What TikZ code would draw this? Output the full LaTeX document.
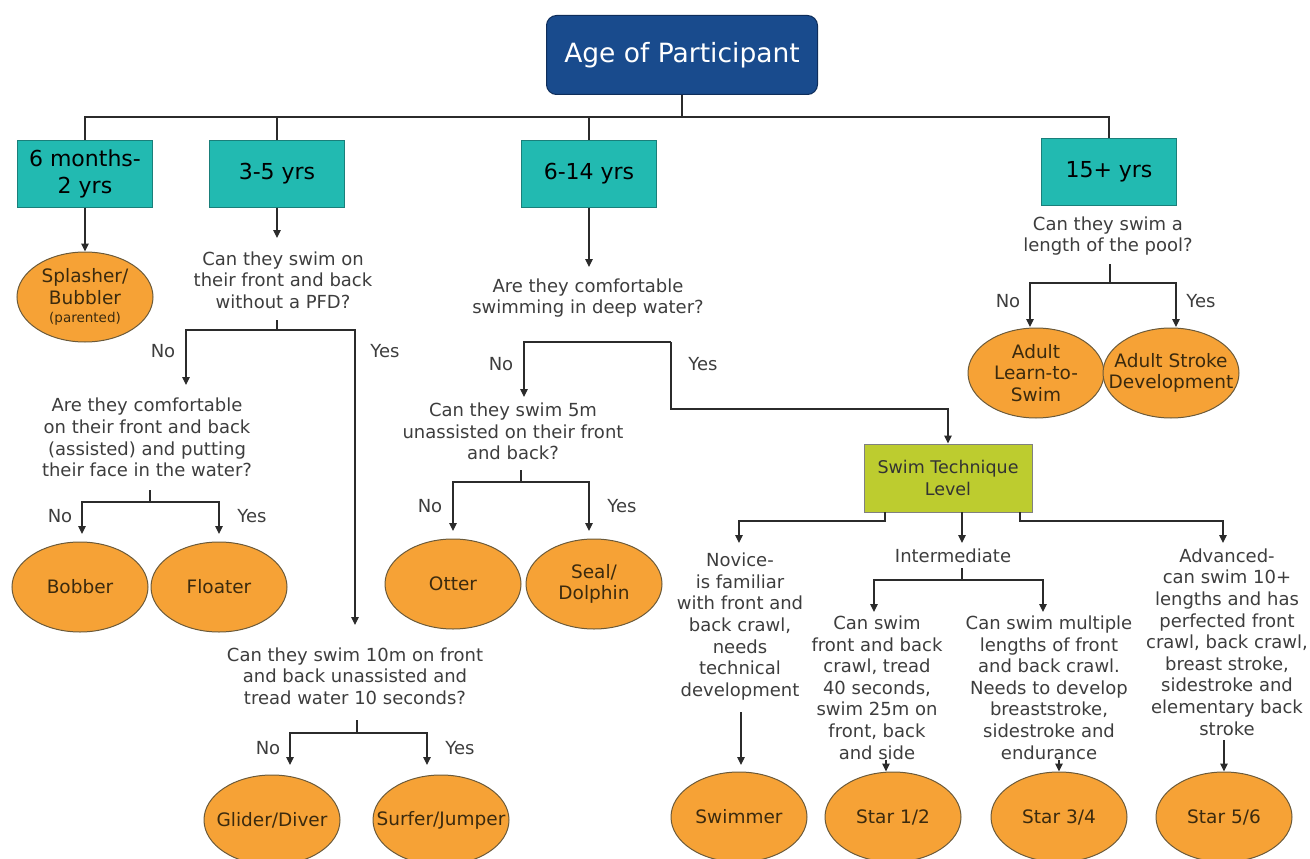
\documentclass[tikz,border=0pt]{standalone}
\usepackage{fontspec}
\setmainfont{DejaVu Sans}
\usetikzlibrary{arrows.meta,shapes.geometric}
\definecolor{titleblue}{HTML}{194B8D}
\definecolor{titleedge}{HTML}{0E2D5A}
\definecolor{tealfill}{HTML}{22BAB1}
\definecolor{tealedge}{HTML}{1A7F7A}
\definecolor{orangefill}{HTML}{F6A236}
\definecolor{orangeedge}{HTML}{6B5A3A}
\definecolor{limefill}{HTML}{BDCC2F}
\definecolor{limeedge}{HTML}{808080}
\definecolor{qtext}{HTML}{3D3D3D}
\definecolor{otxt}{HTML}{3B2A0E}
\definecolor{linec}{HTML}{2B2B2B}
\tikzset{
  titlebox/.style={draw=titleedge,fill=titleblue,rounded corners=10pt,line width=1pt,
    minimum width=271pt,minimum height=79pt,text=white,font=\fontsize{26.5}{30}\selectfont},
  agebox/.style={draw=tealedge,fill=tealfill,line width=1pt,minimum width=135pt,
    minimum height=67pt,align=center,text=black,font=\fontsize{22}{27}\selectfont},
  limebox/.style={draw=limeedge,fill=limefill,line width=1pt,minimum width=168pt,
    minimum height=68pt,align=center,text=black!80,font=\fontsize{17.5}{21.5}\selectfont},
  oval/.style={ellipse,draw=orangeedge,fill=orangefill,line width=1pt,
    minimum width=136pt,minimum height=90pt,inner sep=0pt},
  otext/.style={align=center,text=otxt,inner sep=0pt,font=\fontsize{18.5}{21.6}\selectfont},
  qtxt/.style={align=center,text=qtext,inner sep=0pt,font=\fontsize{18}{21.6}\selectfont},
  yn/.style={text=qtext,inner sep=0pt,font=\fontsize{18}{21.6}\selectfont},
  conn/.style={draw=linec,line width=1.2pt},
  arr/.style={conn,-{Triangle[width=7.5pt,length=8pt]}},
}
\begin{document}
\begin{tikzpicture}[x=1pt,y=-1pt]
\useasboundingbox (0,0) rectangle (1310,859);

% title and age boxes
\node[titlebox] (title) at (682,55) {Age of Participant};
\node[agebox] (tA) at (85,173.5) {6 months-\\2 yrs};
\node[agebox] (tB) at (277,173.5) {3-5 yrs};
\node[agebox] (tC) at (589,173.5) {6-14 yrs};
\node[agebox] (tD) at (1109,171.5) {15+ yrs};
\coordinate (bus) at (682,117);
\draw[conn] (title.south) -- (bus);
\draw[conn] (tA.north) |- (bus) -| (tD.north);
\draw[conn] (tB.north) -- (tB.north |- bus);
\draw[conn] (tC.north) -- (tC.north |- bus);

% 6 months - 2 yrs
\node[oval] (sA) at (85,297) {};
\node[otext] (sAt) at (sA) {Splasher/\\Bubbler\\[-3pt]{\fontsize{13.5}{15}\selectfont(parented)}};
\draw[arr] (tA.south) -- (sA.north);

% 3-5 yrs
\node[qtxt] (q1) at (283,280) {Can they swim on\\their front and back\\without a PFD?};
\coordinate (q1in) at (277,238);
\draw[arr] (tB.south) -- (q1in);
\coordinate (q1out) at (277,320);
\coordinate (q1j) at (277,330);
\coordinate (q2in) at (186,385);
\coordinate (q3in) at (355,625);
\draw[conn] (q1out) -- (q1j);
\draw[arr] (q1j) -| (q2in);
\draw[arr] (q1j) -| (q3in);
\node[yn] (n1) at (163,351) {No};
\node[yn] (y1) at (385,351) {Yes};

\node[qtxt] (q2) at (147,437.5) {Are they comfortable\\on their front and back\\(assisted) and putting\\their face in the water?};
\coordinate (q2out) at (150,490);
\coordinate (q2j) at (150,502);
\coordinate (bobin) at (82,534);
\coordinate (floin) at (219,534);
\draw[conn] (q2out) -- (q2j);
\draw[arr] (q2j) -| (bobin);
\draw[arr] (q2j) -| (floin);
\node[yn] (n2) at (60,516) {No};
\node[yn] (y2) at (252,516) {Yes};
\node[oval] (bob) at (80,587) {};
\node[otext] (bobt) at (bob) {Bobber};
\node[oval] (flo) at (219,587) {};
\node[otext] (flot) at (flo) {Floater};

\node[qtxt] (q3) at (355,676) {Can they swim 10m on front\\and back unassisted and\\tread water 10 seconds?};
\coordinate (q3out) at (357,720);
\coordinate (q3j) at (357,733);
\coordinate (glin) at (290,765);
\coordinate (suin) at (427,765);
\draw[conn] (q3out) -- (q3j);
\draw[arr] (q3j) -| (glin);
\draw[arr] (q3j) -| (suin);
\node[yn] (n3) at (268,748) {No};
\node[yn] (y3) at (460,748) {Yes};
\node[oval] (gl) at (272,820) {};
\node[otext] (glt) at (gl) {Glider/Diver};
\node[oval] (su) at (441,820) {};
\node[otext] (sut) at (su) {Surfer/Jumper};

% 6-14 yrs
\coordinate (q4in) at (589,267);
\draw[arr] (tC.south) -- (q4in);
\node[qtxt] (q4) at (588,298) {Are they comfortable\\swimming in deep water?};
\coordinate (q4a) at (671,342);
\coordinate (q5in) at (524,397);
\draw[arr] (q4a) -| (q5in);
\node[yn] (n4) at (501,364) {No};
\node[yn] (y4) at (703,364) {Yes};

\node[qtxt] (q5) at (513,431.5) {Can they swim 5m\\unassisted on their front\\and back?};
\coordinate (q5out) at (521,470);
\coordinate (q5j) at (521,482);
\coordinate (otin) at (453,531);
\coordinate (sein) at (589,531);
\draw[conn] (q5out) -- (q5j);
\draw[arr] (q5j) -| (otin);
\draw[arr] (q5j) -| (sein);
\node[yn] (n5) at (430,506) {No};
\node[yn] (y5) at (622,506) {Yes};
\node[oval] (ot) at (453,584) {};
\node[otext] (ott) at (ot) {Otter};
\node[oval] (se) at (594,584) {};
\node[otext] (set) at (se) {Seal/\\Dolphin};

% swim technique level
\node[limebox] (stl) at (948,478) {Swim Technique\\Level};
\coordinate (q4b) at (948,409);
\draw[arr] (q4a) |- (q4b) -- (stl.north);

\coordinate (sL) at (885,512);
\coordinate (sM) at (962,512);
\coordinate (sR) at (1020,512);
\coordinate (novin) at (739,543);
\coordinate (intin) at (962,543);
\coordinate (advin) at (1223,543);
\draw[arr] (sL) -- ++(0,9) -| (novin);
\draw[arr] (sM) -- (intin);
\draw[arr] (sR) -- ++(0,9) -| (advin);

\node[qtxt] (nov) at (740,626.5) {Novice-\\is familiar\\with front and\\back crawl,\\needs\\technical\\development};
\coordinate (novout) at (741,712);
\coordinate (swin) at (741,765);
\draw[arr] (novout) -- (swin);
\node[oval] (sw) at (739,817) {};
\node[otext] (swt) at (sw) {Swimmer};

\node[qtxt] (int) at (953,556) {Intermediate};
\coordinate (intout) at (962,568);
\coordinate (intj) at (962,580);
\coordinate (i1in) at (874,612);
\coordinate (i2in) at (1043,612);
\draw[conn] (intout) -- (intj);
\draw[arr] (intj) -| (i1in);
\draw[arr] (intj) -| (i2in);

\node[qtxt] (i1) at (877,687.5) {Can swim\\front and back\\crawl, tread\\40 seconds,\\swim 25m on\\front, back\\and side};
\node[qtxt] (i2) at (1049,687.5) {Can swim multiple\\lengths of front\\and back crawl.\\Needs to develop\\breaststroke,\\sidestroke and\\endurance};
\node[qtxt] (adv) at (1227,642) {Advanced-\\can swim 10+\\lengths and has\\perfected front\\crawl, back crawl,\\breast stroke,\\sidestroke and\\elementary back\\stroke};

\node[oval] (s12) at (893,817) {};
\node[otext] (s12t) at (s12) {Star 1/2};
\node[oval] (s34) at (1059,817) {};
\node[otext] (s34t) at (s34) {Star 3/4};
\node[oval] (s56) at (1224,817) {};
\node[otext] (s56t) at (s56) {Star 5/6};
\coordinate (i1out) at (886,760);
\coordinate (i2out) at (1059,760);
\coordinate (advout) at (1224,740);
\draw[arr] (i1out) -- (i1out |- s12.north);
\draw[arr] (i2out) -- (s34.north);
\draw[arr] (advout) -- (s56.north);

% 15+ yrs
\node[qtxt] (q6) at (1108,236) {Can they swim a\\length of the pool?};
\coordinate (q6out) at (1110,264);
\coordinate (q6j) at (1110,283);
\coordinate (alin) at (1030,327);
\coordinate (asin) at (1176,327);
\draw[conn] (q6out) -- (q6j);
\draw[arr] (q6j) -| (alin);
\draw[arr] (q6j) -| (asin);
\node[yn] (n6) at (1008,301) {No};
\node[yn] (y6) at (1201,301) {Yes};
\node[oval] (al) at (1036,373) {};
\node[otext] (alt) at (al) {Adult\\Learn-to-\\Swim};
\node[oval] (as) at (1171,373) {};
\node[otext] (ast) at (as) {Adult Stroke\\Development};
\end{tikzpicture}
\end{document}
